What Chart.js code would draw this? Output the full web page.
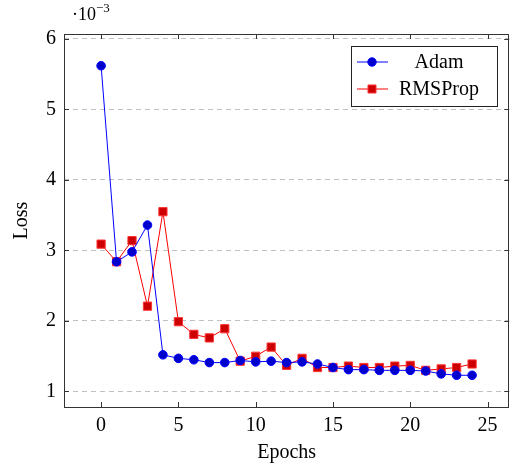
<!DOCTYPE html>
<html lang="en">
<head>
<meta charset="UTF-8">
<title>Adam vs RMSProp loss</title>
<style>
  *{margin:0;padding:0;box-sizing:border-box}
  body{background:#fff;width:516px;height:469px;overflow:hidden}
  #wrap{position:relative;width:516px;height:469px}
</style>
</head>
<body>
<div id="wrap"><canvas id="lossChart" width="516" height="469"></canvas></div>

<script src="https://cdn.jsdelivr.net/npm/chart.js@4.4.0"></script>
<script>
/* Data (loss values in units of 1e-3) */
const epochs = [0,1,2,3,4,5,6,7,8,9,10,11,12,13,14,15,16,17,18,19,20,21,22,23,24];
const adam = [5.62,2.84,2.98,3.36,1.52,1.47,1.45,1.41,1.41,1.44,1.42,1.43,1.41,1.42,1.39,1.34,1.31,1.31,1.30,1.30,1.30,1.29,1.25,1.23,1.23];
const rmsprop = [3.09,2.84,3.14,2.21,3.55,1.99,1.81,1.76,1.89,1.43,1.50,1.63,1.37,1.47,1.34,1.34,1.36,1.34,1.34,1.36,1.37,1.30,1.32,1.34,1.39];

/* Tick labels */
const xTicks = [0,5,10,15,20,25];
const yTicks = [1,2,3,4,5,6];

const FONT = '"Liberation Serif", "DejaVu Serif", serif';

/* axis box, inside tick marks, scale label and legend, pgfplots style */
const pgfLook = {
  id:'pgfLook',
  beforeDatasetsDraw(chart){
    const {ctx, chartArea:a, scales:{x, y}} = chart;
    ctx.save();
    ctx.strokeStyle = '#333';
    ctx.lineWidth = 1;
    ctx.beginPath();
    xTicks.forEach(v=>{
      const px = Math.round(x.getPixelForValue(v))+0.5;
      ctx.moveTo(px,a.bottom); ctx.lineTo(px,a.bottom-5);
      ctx.moveTo(px,a.top); ctx.lineTo(px,a.top+5);
    });
    yTicks.forEach(v=>{
      const py = Math.round(y.getPixelForValue(v))+0.5;
      ctx.moveTo(a.left,py); ctx.lineTo(a.left+5,py);
      ctx.moveTo(a.right,py); ctx.lineTo(a.right-5,py);
    });
    ctx.stroke();
    ctx.restore();
  },
  afterDraw(chart){
    const {ctx, chartArea:a} = chart;
    ctx.save();
    ctx.strokeStyle = '#333';
    ctx.lineWidth = 1;
    ctx.strokeRect(Math.round(a.left)+0.5, Math.round(a.top)+0.5,
                   Math.round(a.right-a.left)-1, Math.round(a.bottom-a.top));

    // ·10^-3 multiplier
    ctx.fillStyle = '#000';
    ctx.textBaseline = 'alphabetic';
    ctx.font = '18px ' + FONT;
    ctx.fillText('\u00b710', 72, 20);
    ctx.font = '13px ' + FONT;
    ctx.fillText('\u22123', 96, 12);

    // legend
    const bx = 351, by = 46, bw = 146, bh = 60;
    ctx.fillStyle = '#fff';
    ctx.fillRect(bx, by, bw, bh);
    ctx.strokeStyle = '#222';
    ctx.strokeRect(bx+0.5, by+0.5, bw, bh);
    chart.data.datasets.forEach((ds,i)=>{
      const cy = 62 + i*27;
      ctx.strokeStyle = ds.borderColor;
      ctx.lineWidth = 1;
      ctx.beginPath(); ctx.moveTo(357,cy); ctx.lineTo(388,cy); ctx.stroke();
      ctx.fillStyle = ds.pointBackgroundColor;
      ctx.strokeStyle = ds.pointBorderColor;
      ctx.beginPath();
      if (ds.pointStyle === 'rect') {
        ctx.rect(368, cy-4, 8, 8);
      } else {
        ctx.arc(372, cy, 4.2, 0, Math.PI*2);
      }
      ctx.fill(); ctx.stroke();
      ctx.fillStyle = '#000';
      ctx.font = '20px ' + FONT;
      ctx.textAlign = 'center';
      ctx.textBaseline = 'middle';
      ctx.fillText(ds.label, 439, cy+1);
    });
    ctx.restore();
  }
};

new Chart(document.getElementById('lossChart'), {
  type:'line',
  data:{
    labels:epochs,
    datasets:[
      {label:'Adam', data:epochs.map((e,i)=>({x:e,y:adam[i]})),
       borderColor:'#0000ff', borderWidth:1,
       pointStyle:'circle', pointRadius:4.3, pointBackgroundColor:'#0000cc', pointBorderColor:'#0000ff', pointBorderWidth:1},
      {label:'RMSProp', data:epochs.map((e,i)=>({x:e,y:rmsprop[i]})),
       borderColor:'#ff0000', borderWidth:1,
       pointStyle:'rect', pointRadius:5.8, pointBackgroundColor:'#cc0000', pointBorderColor:'#ff3333', pointBorderWidth:1}
    ]
  },
  options:{
    responsive:false, animation:false,
    layout:{padding:{top:34, right:6, left:0, bottom:0}},
    plugins:{legend:{display:false}, tooltip:{enabled:false}},
    elements:{line:{tension:0}},
    scales:{
      x:{type:'linear', min:-2.4, max:26.4,
         afterBuildTicks:s=>{s.ticks = xTicks.map(v=>({value:v}));},
         afterFit:s=>{s.height = 62;},
         grid:{display:false, drawTicks:false},
         border:{display:false},
         ticks:{color:'#000', padding:7, maxRotation:0, font:{family:FONT, size:20}},
         title:{display:true, text:'Epochs', color:'#000', padding:{top:0,bottom:4}, font:{family:FONT, size:20, lineHeight:1.2}}},
      y:{type:'linear', min:0.78, max:6.07,
         afterBuildTicks:s=>{s.ticks = yTicks.map(v=>({value:v}));},
         afterFit:s=>{s.width = 64;},
         grid:{color:'#c0c0c0', lineWidth:1, drawTicks:false},
         border:{display:false, dash:[5,4]},
         ticks:{color:'#000', padding:8, font:{family:FONT, size:20}},
         title:{display:true, text:'Loss', color:'#000', padding:{top:10,bottom:0}, font:{family:FONT, size:20, lineHeight:1.2}}}
    }
  },
  plugins:[pgfLook]
});
</script>
</body>
</html>
